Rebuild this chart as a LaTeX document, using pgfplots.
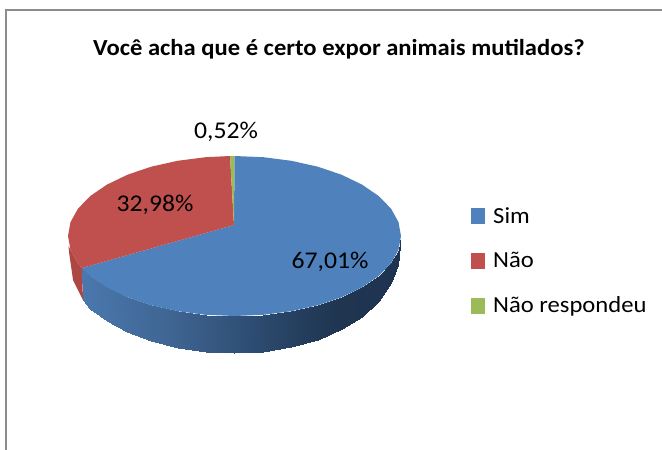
\documentclass[border=0pt]{standalone}
\usepackage{fontspec}
\setmainfont[FakeStretch=1.07]{Carlito}
\usepackage{pgfplots}
\pgfplotsset{compat=1.18}
\definecolor{simblue}{HTML}{4F81BD}
\definecolor{naored}{HTML}{C0504D}
\definecolor{nrgreen}{HTML}{9BBB59}
\definecolor{sidered}{HTML}{AD4744}
\definecolor{framegray}{HTML}{8C8C8C}
\newcommand{\lab}{\fontsize{24}{28}\selectfont}
\pgfplotsset{
  slice/.style={fill=#1, draw=none,
    legend image code/.code={\fill[#1] (0pt,-8pt) rectangle (14pt,8pt); \path (20pt,0pt);}},
}
\begin{document}
\begin{tikzpicture}
\begin{axis}[
  width=662pt, height=450pt, scale only axis,
  xmin=0, xmax=662, ymin=0, ymax=450, y dir=reverse,
  hide axis, clip=true,
  colormap={side}{rgb255(82pt)=(74,120,174); rgb255(170pt)=(63,101,146); rgb255(234pt)=(49,82,122); rgb255(300pt)=(37,62,94); rgb255(340pt)=(31,53,80); rgb255(401pt)=(30,51,80)},
  legend style={at={(axis cs:471,205)}, anchor=north west, draw=none, fill=none,
    font=\fontsize{23}{27}\selectfont, row sep=23.7pt, inner sep=0pt, nodes={inner sep=2pt}},
  legend cell align=left,
]
% frame of the chart area
\addplot[forget plot, framegray, line width=1.4pt] coordinates {(6,450) (6,10) (662,10)};
% side walls
\addplot[forget plot, fill=sidered, draw=none] coordinates {
  (68.5,246) (70.5,249.9) (78,263.4) (82,268) (83,300) (73,280) (69,252)} --cycle;
\addplot[forget plot, surf, shader=interp, mesh/ordering=y varies, mesh/rows=2, point meta=x] coordinates {
  (82,268) (83,300)
  (90.3,276) (90.3,309)
  (107,287.4) (107,321)
  (127.5,297.3) (127.5,332)
  (151.2,305.3) (151.2,340.5)
  (177.6,311.2) (177.6,347.5)
  (205.6,314.8) (205.6,351.5)
  (234.5,316) (234.5,353)
  (263.4,314.8) (263.4,351.5)
  (291.4,311.2) (291.4,347)
  (317.8,305.3) (317.8,340)
  (341.5,297.3) (341.5,329)
  (362,287.4) (362,317)
  (378.7,276) (378.7,301)
  (391,263.4) (391,283)
  (398.5,249.9) (398,265)
  (401,236) (400,244)
};
% top faces
\addplot[slice=simblue] coordinates {
  (234,225) (234.5,156) (263.4,157.2) (291.4,160.8) (317.8,166.7) (341.5,174.7)
  (362,184.6) (378.7,196) (391,208.6) (398.5,222.1) (401,236) (398.5,249.9)
  (391,263.4) (378.7,276) (362,287.4) (341.5,297.3) (317.8,305.3) (291.4,311.2)
  (263.4,314.8) (234.5,316) (205.6,314.8) (177.6,311.2) (151.2,305.3) (127.5,297.3)
  (107,287.4) (90.3,276) (82,268)} --cycle;
\addlegendentry{Sim}
\addplot[slice=naored] coordinates {
  (234,225) (82,268) (78,263.4) (70.5,249.9) (68,236) (70.5,222.1) (78,208.6) (90.3,196)
  (107,184.6) (127.5,174.7) (151.2,166.7) (177.6,160.8) (205.6,157.2) (230,156)} --cycle;
\addlegendentry{Não}
\addplot[slice=nrgreen] coordinates {
  (234,225) (230,156) (234.5,156)} --cycle;
\addlegendentry{Não respondeu}
% labels
\node[font=\lab] at (axis cs:226,132) {0,52\%};
\node[font=\lab] at (axis cs:155,205) {32,98\%};
\node[font=\lab] at (axis cs:330,262) {67,01\%};
\node[font=\fontsize{23}{27}\selectfont\bfseries] at (axis cs:339,49) {Você acha que é certo expor animais mutilados?};
\path[use as bounding box] (rel axis cs:0,0) rectangle (rel axis cs:1,1);
\end{axis}
\end{tikzpicture}
\end{document}
